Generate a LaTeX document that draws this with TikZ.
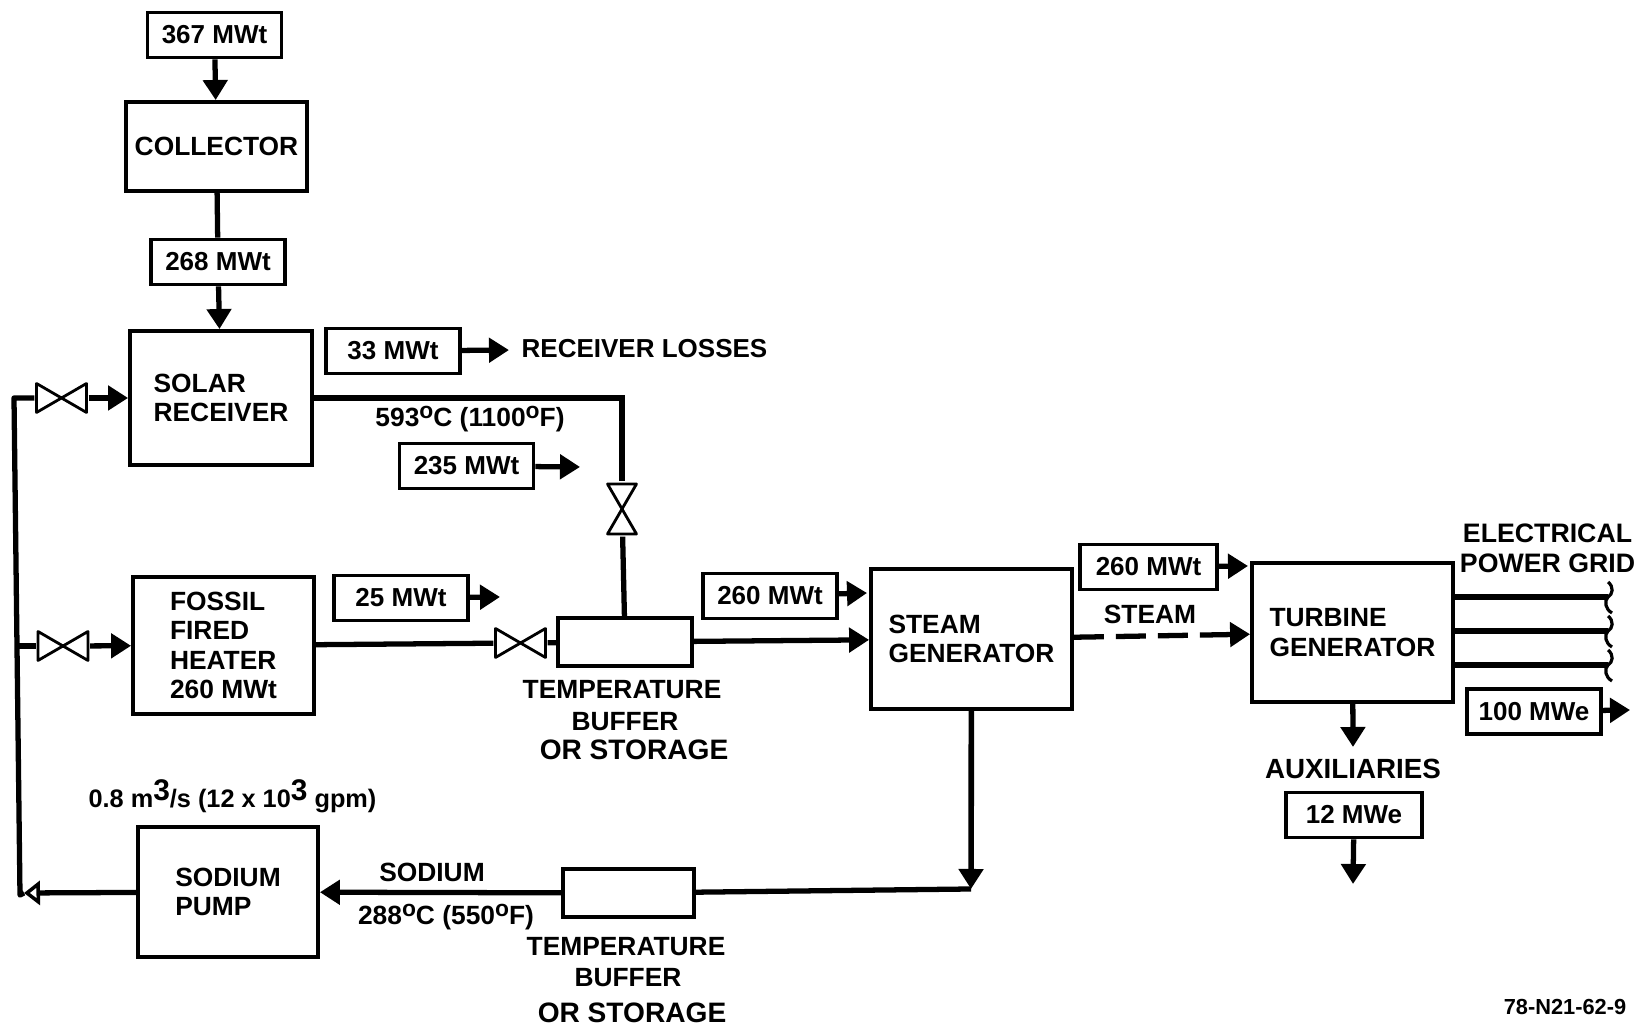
\documentclass[tikz,border=0pt]{standalone}
\usepackage{fontspec}
\setmainfont{Liberation Sans}
\usetikzlibrary{
  arrows.meta,
  positioning
}
\newcommand{\degsup}{\raisebox{.6ex}{\fontsize{6.5}{6.5}\selectfont o}}
\newcommand{\cubesup}{\raisebox{.55ex}{\fontsize{8.5}{8.5}\selectfont 3}}
\tikzset{
  gridbreak/.pic={
    \draw[line width=0.9pt] (0,0.15) .. controls (0.06,0.1) and (0.05,0.03) .. (0,0) .. controls (-0.04,-0.04) and (-0.03,-0.12) .. (0.04,-0.16);
  }
}

\begin{document}
\begin{tikzpicture}[
  block/.style={rectangle, draw=black, line width=1.1pt, align=left, inner sep=0pt, font=\fontsize{7.5}{8.3}\selectfont\bfseries},
  valuebox/.style={rectangle, draw=black, line width=1.1pt, minimum width=1.34cm, minimum height=.45cm, inner sep=0pt, font=\fontsize{7.4}{8.2}\selectfont\bfseries},
  buffer/.style={rectangle, draw=black, line width=1.1pt, minimum height=.48cm, inner sep=0pt},
  txt/.style={align=center, inner sep=.12cm, font=\fontsize{7.5}{8.5}\selectfont\bfseries},
  valve/.style={rectangle, inner sep=0pt, minimum width=.53cm, minimum height=.32cm, path picture={\draw[line width=.8pt, line join=round] (path picture bounding box.center) ++(-.25,-.145) -- ++(.5,.29) -- ++(0,-.29) -- ++(-.5,.29) -- cycle;}},
  valveup/.style={rectangle, inner sep=0pt, minimum width=.32cm, minimum height=.54cm, path picture={\draw[line width=.8pt, line join=round] (path picture bounding box.center) ++(-.145,-.25) -- ++(.29,.5) -- ++(-.29,0) -- ++(.29,-.5) -- cycle;}},
  pipe/.style={line width=1.5pt},
  arrow/.style={-{Triangle[length=.2cm, width=.24cm]}, line width=1.5pt}
]
\useasboundingbox (0,0) rectangle (16.35,10.29);

% Left column
\node[valuebox] (heatin) at (2.145,9.94) {367 MWt};
\node[block, minimum width=1.81cm, minimum height=.89cm] (collector) at (2.165,8.825) {COLLECTOR};
\node[valuebox] (collected) at (2.18,7.67) {268 MWt};
\node[block, minimum width=1.82cm, minimum height=1.34cm] (solar) at (2.21,6.31) {SOLAR\\RECEIVER};
\node[block, minimum width=1.81cm, minimum height=1.37cm] (fossil) at (2.235,3.835) {FOSSIL\\FIRED\\HEATER\\260 MWt};
\node[block, minimum width=1.80cm, minimum height=1.30cm] (pump) at (2.28,1.37) {SODIUM\\PUMP};

% Valves
\node[valve] (valvesolar) at (0.615,6.31) {};
\node[valve] (valvefossil) at (0.63,3.83) {};
\node[valve] (valveheater) at (5.205,3.86) {};
\node[valveup] (valvehot) at (6.22,5.20) {};

% Middle column
\node[valuebox] (losses) at (3.93,6.78) {33 MWt};
\node[txt, font=\fontsize{7.4}{8.2}\selectfont\bfseries] (lossestxt) at (6.445,6.80) {RECEIVER LOSSES};
\node[txt] (hottemp) at (4.70,6.10) {593\degsup C (1100\degsup F)};
\node[valuebox] (solarout) at (4.665,5.63) {235 MWt};
\node[valuebox] (fossilout) at (4.01,4.31) {25 MWt};
\node[buffer, minimum width=1.34cm] (bufferhot) at (6.25,3.87) {};
\node[txt] (hotbufa) at (6.22,3.39) {TEMPERATURE};
\node[txt] (hotbufb) at (6.25,3.075) {BUFFER};
\node[txt, font=\fontsize{8}{9}\selectfont\bfseries] (hotbufc) at (6.34,2.79) {OR STORAGE};
\node[valuebox] (bufferout) at (7.70,4.33) {260 MWt};

% Bottom row
\node[txt, font=\fontsize{7.2}{8.2}\selectfont\bfseries] (flowrate) at (2.325,2.33) {0.8 m\cubesup/s (12 x 10\cubesup\ gpm)};
\node[txt] (sodiumtxt) at (4.32,1.57) {SODIUM};
\node[txt] (coldtemp) at (4.46,1.12) {288\degsup C (550\degsup F)};
\node[buffer, minimum width=1.31cm] (buffercold) at (6.285,1.36) {};
\node[txt] (coldbufa) at (6.26,0.82) {TEMPERATURE};
\node[txt] (coldbufb) at (6.28,0.51) {BUFFER};
\node[txt, font=\fontsize{8}{9}\selectfont\bfseries] (coldbufc) at (6.32,0.16) {OR STORAGE};

% Right part
\node[block, minimum width=2.01cm, minimum height=1.40cm] (steamgen) at (9.715,3.90) {STEAM\\GENERATOR};
\node[valuebox, minimum width=1.37cm] (steamout) at (11.485,4.62) {260 MWt};
\node[txt] (steamtxt) at (11.50,4.15) {STEAM};
\node[block, minimum width=2.01cm, minimum height=1.39cm] (turbine) at (13.525,3.965) {TURBINE\\GENERATOR};
\node[txt, font=\fontsize{7.6}{8.5}\selectfont\bfseries] (gridtxt) at (15.475,4.81) {ELECTRICAL\\POWER GRID};
\node[valuebox] (gridout) at (15.34,3.175) {100 MWe};
\node[txt, font=\fontsize{7.9}{8.5}\selectfont\bfseries] (auxtxt) at (13.53,2.60) {AUXILIARIES};
\node[valuebox, minimum width=1.36cm] (auxout) at (13.54,2.14) {12 MWe};
\node[txt, font=\fontsize{6.2}{7}\selectfont\bfseries] (drawingno) at (15.65,0.22) {78-N21-62-9};

% Free ends and bends
\coordinate (solarend) at (5.80,5.62);
\coordinate (fossilend) at (5.00,4.32);
\coordinate (bufferend) at (8.67,4.36);
\coordinate (steamend) at (12.48,4.63);
\coordinate (griddrop) at (16.30,3.19);
\coordinate (turbinedrop) at (13.53,2.82);
\coordinate (auxdrop) at (13.53,1.45);
\coordinate (sodiumbend) at (9.71,1.40);
\coordinate (topbend) at (0.14,6.31);
\coordinate (midjoin) at (0.165,3.83);
\coordinate (botbend) at (0.20,1.34);
\coordinate (returnend) at (0.24,1.36);
\coordinate (gridone) at (16.08,4.32);
\coordinate (gridtwo) at (16.08,3.98);
\coordinate (gridthree) at (16.08,3.64);

% Top chain
\draw[arrow] (heatin) -- (collector);
\draw[pipe] (collector) -- (collected);
\draw[arrow] (collected) -- (solar);
\draw[arrow] (losses) -- (lossestxt);
\draw[arrow] (solarout) -- (solarend);
\draw[arrow] (fossilout) -- (fossilend);

% Sodium loop
\draw[pipe] (solar) -| (valvehot);
\draw[pipe] (valvehot) -- (bufferhot);
\draw[pipe] (fossil) -- (valveheater);
\draw[pipe] (valveheater) -- (bufferhot);
\draw[arrow] (bufferhot) -- (steamgen);
\draw[arrow] (bufferout) -- (bufferend);
\draw[arrow, line width=1.6pt] (steamgen) -- (sodiumbend);
\draw[pipe] (sodiumbend) -- (buffercold);
\draw[arrow] (buffercold) -- (pump);
\draw[pipe, line join=round] (valvesolar) -- (topbend) -- (botbend) -- (returnend);
\draw[pipe, -{Triangle[open, length=.16cm, width=.24cm, line width=1pt]}] (pump) -- (returnend);
\draw[pipe] (midjoin) -- (valvefossil);
\draw[arrow] (valvesolar) -- (solar);
\draw[arrow] (valvefossil) -- (fossil);

% Steam and output
\draw[arrow, dash pattern=on .3cm off .12cm] (steamgen) -- (turbine);
\draw[arrow] (steamout) -- (steamend);
\draw[pipe] (turbine.east |- gridone) -- (gridone);
\draw[pipe] (turbine.east |- gridtwo) -- (gridtwo);
\draw[pipe] (turbine.east |- gridthree) -- (gridthree);
\pic at (gridone) {gridbreak};
\pic at (gridtwo) {gridbreak};
\pic at (gridthree) {gridbreak};
\draw[arrow] (gridout) -- (griddrop);
\draw[arrow] (turbine) -- (turbinedrop);
\draw[arrow] (auxout) -- (auxdrop);

\end{tikzpicture}
\end{document}
